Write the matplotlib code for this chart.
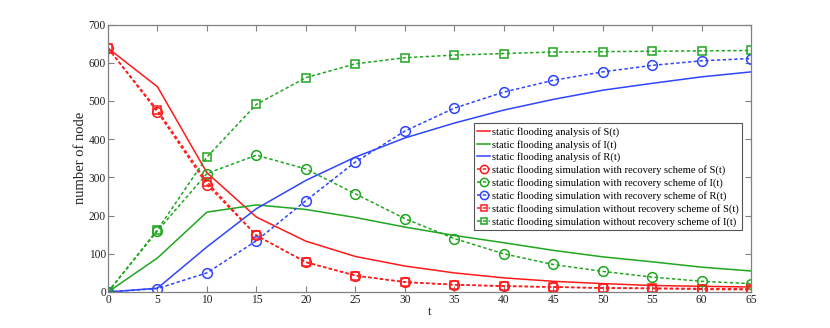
import matplotlib
matplotlib.use("Agg")
import matplotlib.pyplot as plt

t = [0, 5, 10, 15, 20, 25, 30, 35, 40, 45, 50, 55, 60, 65]

ana_S = [638, 537, 312, 196, 133, 93, 68, 50, 37, 28, 22, 17, 15, 13]
ana_I = [0, 89, 209, 228, 216, 195, 170, 148, 129, 109, 92, 79, 65, 55]
ana_R = [0, 10, 118, 218, 292, 353, 403, 442, 476, 504, 528, 546, 563, 576]

rec_S = [638, 471, 281, 148, 78, 43, 26, 19, 15, 13, 10, 9, 7, 6]
rec_I = [0, 160, 310, 358, 322, 257, 192, 140, 100, 72, 54, 39, 28, 22]
rec_R = [0, 9, 50, 134, 239, 340, 421, 481, 523, 554, 576, 593, 605, 611]

norec_S = [638, 476, 288, 148, 78, 43, 26, 19, 16, 13, 11, 10, 9, 8]
norec_I = [0, 163, 353, 491, 561, 597, 613, 620, 624, 628, 629, 630, 631, 632]

labels = [
    "static flooding analysis of S(t)",
    "static flooding analysis of I(t)",
    "static flooding analysis of R(t)",
    "static flooding simulation with recovery scheme of S(t)",
    "static flooding simulation with recovery scheme of I(t)",
    "static flooding simulation with recovery scheme of R(t)",
    "static flooding simulation without recovery scheme of S(t)",
    "static flooding simulation without recovery scheme of I(t)",
]

RED = "#ff1a1a"
GREEN = "#1fa61f"
BLUE = "#2f45ff"

plt.rcParams['font.family'] = ['Liberation Serif', 'DejaVu Serif']
plt.rcParams['font.size'] = 8

fig = plt.figure(figsize=(8.3, 3.28), dpi=100)
ax = fig.add_axes([108/830, 1-292/328, (751-108)/830, (292-24.5)/328])

lw = 1.1
dot = (0, (2.2, 1.6))
ax.plot(t, ana_S, color=RED, lw=lw, label=labels[0])
ax.plot(t, ana_I, color=GREEN, lw=lw, label=labels[1])
ax.plot(t, ana_R, color=BLUE, lw=lw, label=labels[2])
ax.plot(t, rec_S, color=RED, lw=lw, ls=dot, marker='o', ms=7, mfc='none', mew=1.1, label=labels[3])
ax.plot(t, rec_I, color=GREEN, lw=lw, ls=dot, marker='o', ms=7, mfc='none', mew=1.1, label=labels[4])
ax.plot(t, rec_R, color=BLUE, lw=lw, ls=dot, marker='o', ms=7, mfc='none', mew=1.1, label=labels[5])
ax.plot(t, norec_S, color=RED, lw=lw, ls=dot, marker='s', ms=5.5, mfc='none', mew=1.1, label=labels[6])
ax.plot(t, norec_I, color=GREEN, lw=lw, ls=dot, marker='s', ms=5.5, mfc='none', mew=1.1, label=labels[7])

ax.set_xlim(0, 65)
ax.set_ylim(0, 700)
ax.set_xticks(range(0, 66, 5))
ax.set_yticks(range(0, 701, 100))
ax.tick_params(direction='in', top=True, right=True, length=4, width=0.8,
               color='#808080', labelcolor='#222222', labelsize=8.3, pad=1.5)
for s in ax.spines.values():
    s.set_color('#808080')
    s.set_linewidth(0.9)
ax.set_xlabel("t", fontsize=9, labelpad=0, color='#222222')
ax.set_ylabel("number of node", fontsize=10.5, labelpad=1, color='#222222')

leg = ax.legend(loc='upper right', bbox_to_anchor=(0.986, 0.63), fontsize=7.6,
                handlelength=1.25, handletextpad=0.15, borderpad=0.3,
                labelspacing=0.28, borderaxespad=0, fancybox=False, framealpha=1,
                edgecolor='#555555', markerscale=0.85)
leg.get_frame().set_linewidth(0.8)

fig.savefig("out.png", dpi=100)
